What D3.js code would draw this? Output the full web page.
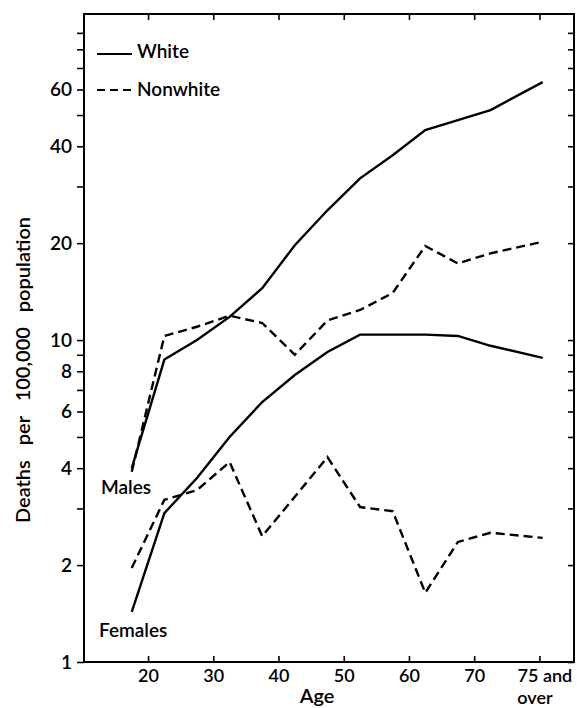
<!DOCTYPE html>
<html>
<head>
<meta charset="utf-8">
<script src="https://cdn.jsdelivr.net/npm/d3@7"></script>
<style>
  body { margin: 0; background: #fff; }
  text { font-family: Lato, "Noto Sans", sans-serif; font-weight: 600; fill: #000; }
</style>
</head>
<body>
<div id="chart"></div>
<script>
// age group midpoints (last one is "75 and over")
let ages = [17.5, 22.5, 27.5, 32.5, 37.5, 42.5, 47.5, 52.5, 57.5, 62.5, 67.5, 72.5, 80.5]

// deaths per 100,000 population
let whiteMales      = [4.0, 8.7, 10.0, 11.8, 14.5, 19.7, 25.3, 31.8, 37.5, 44.9, 48.2, 51.8, 63.3]
let nonwhiteMales   = [3.9, 10.3, 11.0, 11.9, 11.3, 9.0, 11.5, 12.4, 14.0, 19.6, 17.3, 18.6, 20.2]
let whiteFemales    = [1.43, 2.9, 3.73, 5.0, 6.42, 7.79, 9.18, 10.4, 10.4, 10.4, 10.3, 9.6, 8.8]
let nonwhiteFemales = [1.96, 3.19, 3.42, 4.18, 2.46, 3.26, 4.33, 3.03, 2.94, 1.64, 2.36, 2.52, 2.43]

// axis ticks
let xTicks = [20, 30, 40, 50, 60, 70, 80]
let xTickLabels = ["20", "30", "40", "50", "60", "70", "75 and"]
let yTicks = [1, 2, 3, 4, 5, 6, 7, 8, 9, 10, 20, 30, 40, 50, 60, 70, 80, 90]
let yTickLabels = [1, 2, 4, 6, 8, 10, 20, 40, 60]

let width = 577, height = 708
let plotLeft = 84, plotRight = 574, plotTop = 14, plotBottom = 662

let svg = d3.select("#chart").append("svg")
  .attr("width", width)
  .attr("height", height)

let x = d3.scaleLinear().domain([10.18, 85.3]).range([plotLeft, plotRight])
let y = d3.scaleLog().domain([1, 103]).range([plotBottom, plotTop])

// frame
svg.append("rect")
  .attr("x", plotLeft).attr("y", plotTop)
  .attr("width", plotRight - plotLeft).attr("height", plotBottom - plotTop)
  .attr("fill", "none").attr("stroke", "#000").attr("stroke-width", 2)

// axes: ticks only, the frame is the domain line
function plainAxis(g) {
  g.select(".domain").remove()
  g.selectAll(".tick line").attr("stroke", "#000").attr("stroke-width", 1.6)
}

svg.append("g")
  .attr("transform", `translate(0,${plotBottom})`)
  .call(d3.axisBottom(x).tickValues(xTicks).tickSize(-6).tickPadding(7)
    .tickFormat((d, i) => xTickLabels[i]))
  .call(plainAxis)
  .call(g => g.selectAll(".tick text").attr("font-size", 18).attr("fill", "#000"))
  .call(g => {
    // last label wraps onto a second line: "75 and / over"
    let last = g.selectAll(".tick text").filter((d, i) => i == 6)
    last.attr("dx", 5)
    last.append("tspan").attr("x", -5).attr("dy", 22).text("over")
  })

svg.append("g")
  .attr("transform", `translate(0,${plotTop})`)
  .call(d3.axisTop(x).tickValues(xTicks).tickSize(-6).tickFormat(""))
  .call(plainAxis)

svg.append("g")
  .attr("transform", `translate(${plotLeft},0)`)
  .call(d3.axisLeft(y).tickValues(yTicks).tickSize(7).tickPadding(5)
    .tickFormat(d => yTickLabels.includes(d) ? d : ""))
  .call(plainAxis)
  .call(g => g.selectAll(".tick text").attr("font-size", 19).attr("fill", "#000"))

svg.append("g")
  .attr("transform", `translate(${plotRight},0)`)
  .call(d3.axisRight(y).tickValues(yTicks).tickSize(-6).tickFormat(""))
  .call(plainAxis)

// axis titles
svg.append("text")
  .attr("x", 317).attr("y", 703)
  .attr("text-anchor", "middle").attr("font-size", 20)
  .text("Age")

svg.append("text")
  .attr("transform", "translate(30,370) rotate(-90)")
  .attr("text-anchor", "middle").attr("font-size", 20)
  .attr("word-spacing", 10)
  .text("Deaths per 100,000 population")

// lines
let line = d3.line()
  .x((d, i) => x(ages[i]))
  .y(d => y(d))

let series = [
  { values: whiteMales, dash: null },
  { values: nonwhiteMales, dash: "9,5" },
  { values: whiteFemales, dash: null },
  { values: nonwhiteFemales, dash: "9,5" }
]

svg.selectAll(".series")
  .data(series)
  .enter()
  .append("path")
  .attr("class", "series")
  .attr("d", d => line(d.values))
  .attr("fill", "none")
  .attr("stroke", "#000")
  .attr("stroke-width", 2.4)
  .attr("stroke-dasharray", d => d.dash)

// group labels
svg.append("text").attr("x", 101).attr("y", 494).attr("font-size", 19).text("Males")
svg.append("text").attr("x", 99).attr("y", 637).attr("font-size", 19).text("Females")

// legend
let legend = svg.append("g")
legend.append("line")
  .attr("x1", 97).attr("x2", 132).attr("y1", 54).attr("y2", 54)
  .attr("stroke", "#000").attr("stroke-width", 2)
legend.append("text").attr("x", 137).attr("y", 58).attr("font-size", 19).text("White")
legend.append("line")
  .attr("x1", 97).attr("x2", 132).attr("y1", 90).attr("y2", 90)
  .attr("stroke", "#000").attr("stroke-width", 2).attr("stroke-dasharray", "8,5")
legend.append("text").attr("x", 137).attr("y", 96).attr("font-size", 19).text("Nonwhite")
</script>
</body>
</html>
